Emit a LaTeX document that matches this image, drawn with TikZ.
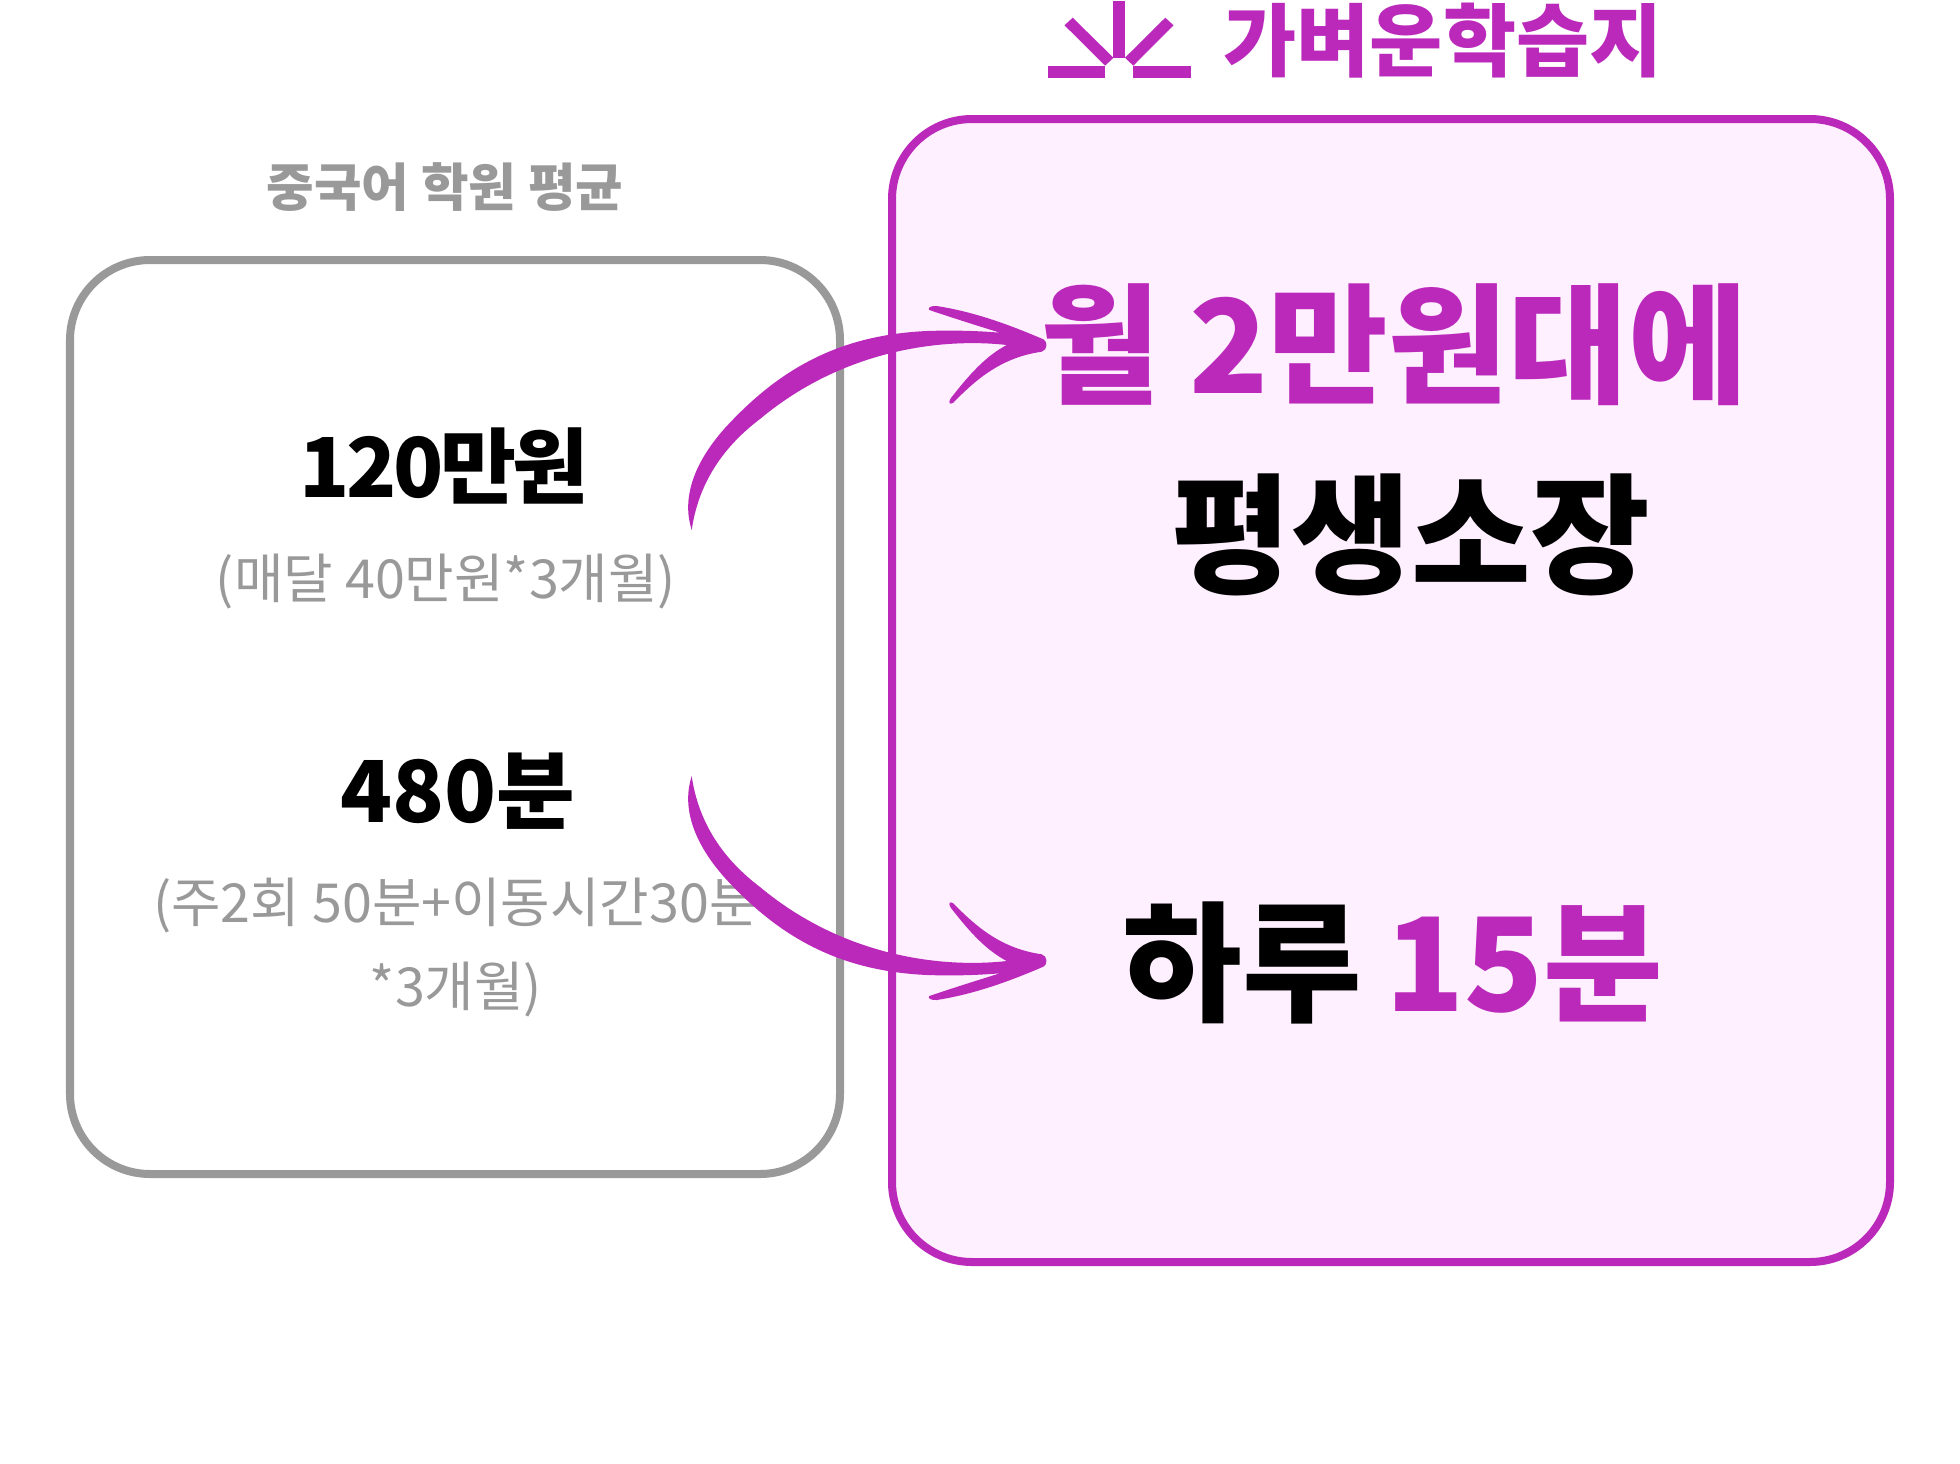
\documentclass[tikz,border=0pt]{standalone}
\usepackage{fontspec}
\setmainfont{Noto Sans CJK KR}

\definecolor{brandpurple}{HTML}{BB29BB}
\definecolor{brandtint}{HTML}{FEF0FF}
\definecolor{avggray}{HTML}{999999}

\tikzset{
  boxline/.style={line width=0.08cm,rounded corners=0.8cm},
  graylabel/.style={text=avggray,font=\fontsize{15.3}{18}\selectfont},
  grayhead/.style={text=avggray,font=\fontsize{14.7}{17}\selectfont\bfseries},
  bigword/.style={font=\fontsize{37}{42}\selectfont\bfseries},
}

\newcommand{\handarrow}{
  \fill[brandpurple] (691.7,530) .. controls (682,500) and (692,465) .. (725,428)
    .. controls (780,368) and (840,335) .. (927,331)
    .. controls (955,330) and (980,331) .. (1000,332.7)
    .. controls (975,325) and (950,317) .. (929.3,310)
    .. controls (927,307.5) and (932,305.5) .. (936.7,306)
    .. controls (975,312) and (1010,325) .. (1043.3,339.3)
    .. controls (1047.5,341) and (1048,350) .. (1041.7,351.7)
    .. controls (1005,357) and (980,375) .. (953.3,402.7)
    .. controls (950,404.5) and (947.5,404) .. (951,398)
    .. controls (975,367) and (990,354) .. (1006.7,345)
    .. controls (945,338) and (845,348) .. (760,419)
    .. controls (735,438) and (700,472) .. (691.7,530)
    -- cycle;
}

\begin{document}
\begin{tikzpicture}[x=0.01cm,y=-0.01cm]

\useasboundingbox (0,0) rectangle (1960,1463);

\draw[boxline,draw=avggray,fill=white] (70,260) rectangle (840,1174);

\draw[boxline,draw=brandpurple,fill=brandtint] (892,119) rectangle (1890,1262);

% sun mark
\fill[brandpurple] (1113.4,1) rectangle (1125,58);

\fill[brandpurple] (1064.5,25.3) -- (1072.7,17.7) -- (1113.4,57.7) -- (1105.2,65.7) -- cycle;

\fill[brandpurple] (1173.5,25.3) -- (1165.3,17.7) -- (1125,57.7) -- (1133.3,65.7) -- cycle;

\fill[brandpurple] (1048,66) rectangle (1105.2,77.7);

\fill[brandpurple] (1133.3,66) rectangle (1190.5,77.7);

\node[text=brandpurple,font=\fontsize{22.6}{27}\selectfont\bfseries] (brandname) at (1443,41) {가벼운학습지};

\node[grayhead] (avghead) at (445,187) {중국어 학원 평균};

\node[font=\fontsize{23.5}{28}\selectfont\bfseries\addfontfeature{LetterSpace=-4.2}] (pricefig) at (444,466) {120만원};

\node[graylabel] (pricenote) at (446,582) {(매달 40만원*3개월)};

\node[font=\fontsize{24.3}{29}\selectfont\bfseries] (timefig) at (458,791) {480분};

\node[graylabel] (timenotea) at (456,906) {(주2회 50분+이동시간30분};

\node[graylabel] (timenoteb) at (456,990) {*3개월)};

\node[bigword,text=brandpurple] (pricenew) at (1394,345) {월 2만원대에};

\node[bigword,text=black] (lifetime) at (1411,535) {평생소장};

\node[bigword,text=black] (timenew) at (1393,963) {하루\kern-0.06cm\ \textcolor{brandpurple}{15분}};

\handarrow

\begin{scope}[shift={(0,1306)},yscale=-1]
\handarrow
\end{scope}

\end{tikzpicture}
\end{document}
